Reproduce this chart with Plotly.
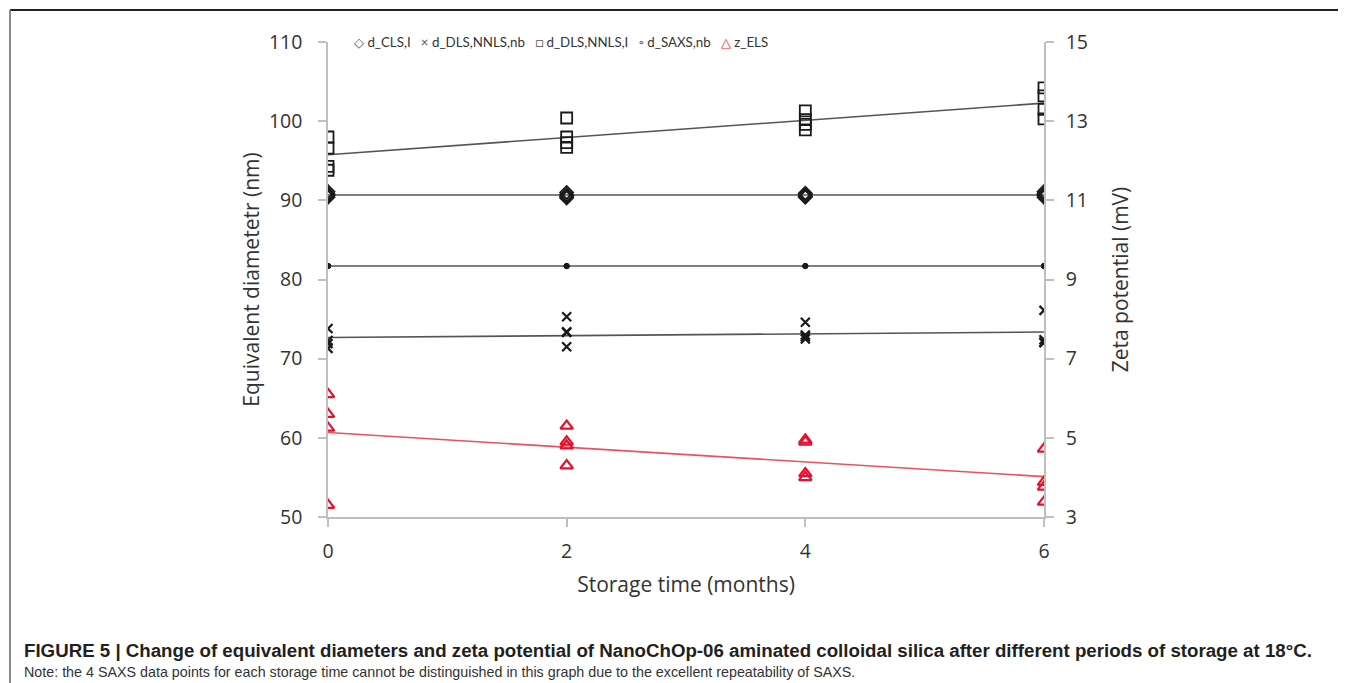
import numpy as np
import plotly.graph_objects as go

# ---------------- data ----------------
months = [0, 0, 0, 0, 2, 2, 2, 2, 4, 4, 4, 4, 6, 6, 6, 6]

d_cls_i = [91.1, 90.8, 90.6, 90.4, 91.0, 90.7, 90.5, 90.3,
           90.9, 90.7, 90.5, 90.4, 91.1, 90.8, 90.6, 90.4]
d_dls_nnls_nb = [73.8, 72.3, 71.9, 71.3, 75.3, 73.4, 73.3, 71.5,
                 74.6, 73.0, 72.8, 72.5, 76.1, 72.4, 72.1, 72.0]
d_dls_nnls_i = [98.0, 96.6, 94.3, 93.8, 100.4, 98.0, 97.3, 96.7,
                101.3, 100.2, 99.6, 98.9, 104.2, 103.2, 101.5, 100.3]
d_saxs_nb = [81.7, 81.7, 81.7, 81.7, 81.7, 81.7, 81.7, 81.7,
             81.7, 81.7, 81.7, 81.7, 81.7, 81.7, 81.7, 81.7]
z_els = [6.1, 5.6, 5.25, 3.3, 5.3, 4.9, 4.8, 4.3,
         4.95, 4.9, 4.1, 4.0, 4.72, 3.88, 3.76, 3.38]

series_names = ["d_CLS,I", "d_DLS,NNLS,nb", "d_DLS,NNLS,I", "d_SAXS,nb", "z_ELS"]
legend_glyphs = ["◇", "×", "□", "◦", "△"]
x_ticks = [0, 2, 4, 6]
y_ticks = [50, 60, 70, 80, 90, 100, 110]
y2_ticks = [3, 5, 7, 9, 11, 13, 15]

# ---------------- figure ----------------
fig = go.Figure()

BLACK = "#1a1a1a"
RED = "#e8112d"
TREND = "#555555"
TREND_RED = "#e8525f"


def trend(xs, ys):
    k, b = np.polyfit(xs, ys, 1)
    xl = [min(xs), max(xs)]
    return xl, [k * v + b for v in xl]


for ys in (d_cls_i, d_dls_nnls_nb, d_dls_nnls_i, d_saxs_nb):
    tx, ty = trend(months, ys)
    fig.add_trace(go.Scatter(x=tx, y=ty, mode="lines", showlegend=False,
                             line=dict(color=TREND, width=1.6), hoverinfo="skip"))
tx, ty = trend(months, z_els)
fig.add_trace(go.Scatter(x=tx, y=ty, mode="lines", showlegend=False, yaxis="y2",
                         line=dict(color=TREND_RED, width=1.6), hoverinfo="skip"))

fig.add_trace(go.Scatter(x=months, y=d_cls_i, mode="markers", name=series_names[0],
                         marker=dict(symbol="diamond-open", size=10, color=BLACK,
                                     line=dict(width=1.8, color=BLACK))))
fig.add_trace(go.Scatter(x=months, y=d_dls_nnls_nb, mode="markers", name=series_names[1],
                         marker=dict(symbol="x-thin-open", size=9, color=BLACK,
                                     line=dict(width=2.2, color=BLACK))))
fig.add_trace(go.Scatter(x=months, y=d_dls_nnls_i, mode="markers", name=series_names[2],
                         marker=dict(symbol="square-open", size=11, color=BLACK,
                                     line=dict(width=1.8, color=BLACK))))
fig.add_trace(go.Scatter(x=months, y=d_saxs_nb, mode="markers", name=series_names[3],
                         marker=dict(symbol="circle", size=5, color=BLACK,
                                     line=dict(width=1, color=BLACK))))
fig.add_trace(go.Scatter(x=months, y=z_els, mode="markers", name=series_names[4],
                         yaxis="y2",
                         marker=dict(symbol="triangle-up-open", size=11, color=RED,
                                     line=dict(width=2.2, color=RED))))

AX = "#bfbfbf"
TICKFONT = dict(family="Open Sans", size=19.5, color="#333333")
TITLEFONT = dict(family="Open Sans", size=21, color="#333333")

# the page body has an 8px margin; work in reference-picture pixels
OFF = 8
W, H = 1346 - OFF, 683 - OFF
L = 328 - OFF
R = W - (1044 - OFF)
T = 42 - OFF
B = H - (517 - OFF)
pw, ph = W - L - R, H - T - B


def px(xr):
    return (xr - OFF - L) / pw


def py(yr):
    return (H - B - (yr - OFF)) / ph


fig.update_layout(
    width=W, height=H,
    margin=dict(l=L, r=R, t=T, b=B, autoexpand=False),
    paper_bgcolor="white", plot_bgcolor="white",
    showlegend=False,
    xaxis=dict(range=[0, 6], tickvals=x_ticks, showgrid=False, zeroline=False,
               showline=True, linecolor=AX, linewidth=1.5,
               ticks="outside", ticklen=8, tickcolor=AX, tickwidth=1.5,
               tickfont=TICKFONT, ticklabelstandoff=8,
               title=dict(text="Storage time (months)", font=TITLEFONT, standoff=14)),
    yaxis=dict(range=[50, 110], tickvals=y_ticks, showgrid=False, zeroline=False,
               showline=True, linecolor=AX, linewidth=1.5,
               ticks="outside", ticklen=8, tickcolor=AX, tickwidth=1.5,
               tickfont=TICKFONT, ticklabelstandoff=12,
               title=dict(text="Equivalent diametetr (nm)", font=TITLEFONT, standoff=4)),
    yaxis2=dict(range=[3, 15], tickvals=y2_ticks, overlaying="y", side="right",
                showgrid=False, zeroline=False,
                showline=True, linecolor=AX, linewidth=1.5,
                ticks="outside", ticklen=8, tickcolor=AX, tickwidth=1.5,
                tickfont=TICKFONT, ticklabelstandoff=8,
                title=dict(text="Zeta potential (mV)", font=TITLEFONT, standoff=26)),
)

# legend row (compact, as in the original)
sp = "\u00a0" * 3
parts = []
for g, n in zip(legend_glyphs, series_names):
    col = RED if n == "z_ELS" else "#555555"
    parts.append(f"<span style='color:{col}'>{g}</span>\u00a0{n}")
fig.add_annotation(xref="paper", yref="paper", x=px(561), y=py(42),
                   xanchor="center", yanchor="middle", showarrow=False,
                   text=sp.join(parts),
                   font=dict(family="Lato", size=13.3, color="#333333"))

# figure frame: top and left rules
fig.add_shape(type="line", xref="paper", yref="paper",
              x0=px(10), x1=px(1346 + 20), y0=py(10), y1=py(10),
              line=dict(color="#222222", width=2))
fig.add_shape(type="line", xref="paper", yref="paper",
              x0=px(10), x1=px(10), y0=py(10), y1=py(700),
              line=dict(color="#8a8a8a", width=2))

# caption
fig.add_annotation(xref="paper", yref="paper", x=px(22), y=py(650),
                   xanchor="left", yanchor="middle", showarrow=False,
                   text="<b>FIGURE 5 | Change of equivalent diameters and zeta potential of NanoChOp-06 "
                        "aminated colloidal silica after different periods of storage at 18°C.</b>",
                   font=dict(family="Liberation Sans", size=18.7, color="#231f20"))
fig.add_annotation(xref="paper", yref="paper", x=px(22), y=py(672),
                   xanchor="left", yanchor="middle", showarrow=False,
                   text="Note: the 4 SAXS data points for each storage time cannot be distinguished "
                        "in this graph due to the excellent repeatability of SAXS.",
                   font=dict(family="Liberation Sans", size=14.3, color="#333333"))

fig.write_html("out.html")
